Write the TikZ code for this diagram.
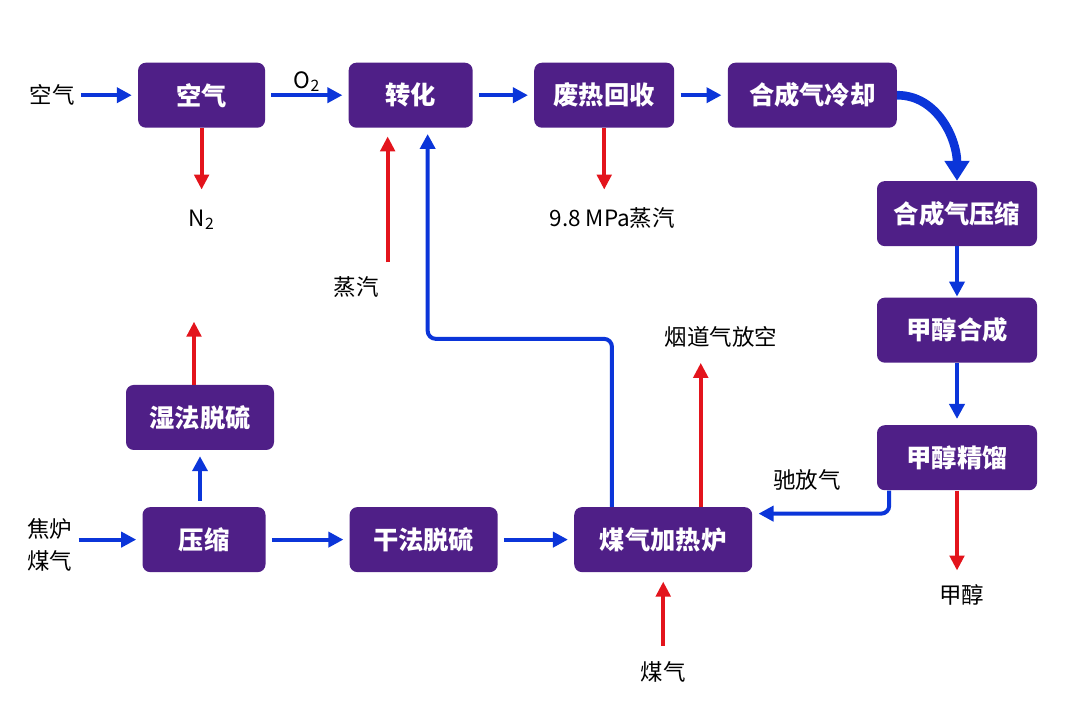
\documentclass[tikz,border=0pt]{standalone}
\usepackage{fontspec}
\setmainfont{Noto Sans CJK SC}
\usetikzlibrary{positioning,arrows.meta,calc}
\definecolor{procpurple}{HTML}{4F1F87}
\definecolor{flowblue}{HTML}{0B35D9}
\definecolor{hotred}{HTML}{E3141C}
\tikzset{
  box/.style    ={rounded corners=5.5pt,fill=procpurple,text=white,font=\fontsize{18}{21}\selectfont\bfseries,minimum height=1.625cm,inner xsep=2pt,align=center},
  lbl/.style    ={font=\fontsize{16}{19}\selectfont,inner sep=0pt,text height=12.8pt,text depth=0.8pt},
  lbltwo/.style ={font=\fontsize{16}{23}\selectfont,inner sep=0pt,align=center},
  flow/.style   ={-{Triangle[length=0.375cm,width=0.375cm]},line width=0.1cm,draw=flowblue,shorten <=0.15cm,shorten >=0.15cm},
  hot/.style    ={-{Triangle[length=0.375cm,width=0.36cm]},line width=0.1cm,draw=hotred},
  bigflow/.style={-{Triangle[length=0.5cm,width=0.6cm]},line width=0.215cm,draw=flowblue},
}
\begin{document}
\begin{tikzpicture}
  \useasboundingbox (0,0) rectangle (27,-18);
  \node[box, minimum width=3.175cm] (air) at (5.04,-2.38) {空气};
  \node[box, minimum width=3.1cm, right=2.075cm of air] (conv) {转化};
  \node[box, minimum width=3.5cm, right=1.525cm of conv] (heat) {废热回收};
  \node[box, minimum width=4.225cm, right=1.325cm of heat] (cool) {合成气冷却};
  \node[box, minimum width=4cm] (comp2) at (23.925,-5.34) {合成气压缩};
  \node[box, minimum width=4cm, below=1.275cm of comp2] (msyn) {甲醇合成};
  \node[box, minimum width=4cm, below=1.55cm of msyn] (mdist) {甲醇精馏};
  \node[box, minimum width=3.075cm] (comp) at (5.1,-13.49) {压缩};
  \node[box, minimum width=3.7cm, above=1.415cm of comp, xshift=-0.1cm] (wet) {湿法脱硫};
  \node[box, minimum width=3.7cm, right=2.09cm of comp] (dry) {干法脱硫};
  \node[box, minimum width=4.45cm, right=1.9cm of dry] (furn) {煤气加热炉};

  \node[lbl, left=1.575cm of air] (airin) {空气};
  \node[lbl, below=2cm of air] (nitro) {N\textsubscript{2}};
  \node[lbl, below=3.72cm of conv, xshift=-1.36cm] (steam) {蒸汽};
  \node[lbl, below=2cm of heat, xshift=0.2cm] (hpsteam) {9.8 MPa蒸汽};
  \node[lbl, below=2.36cm of mdist, xshift=0.12cm] (meoh) {甲醇};
  \node[lbltwo, left=1.74cm of comp, yshift=-0.14cm] (cog) {焦炉\\煤气};
  \node[lbl, below=2.24cm of furn] (fuel) {煤气};
  \coordinate (flueout) at ([xshift=3.17cm, yshift=3.6cm]furn.north west);
  \node[lbl, above=0.4cm of flueout, xshift=0.5cm] (flue) {烟道气放空};
  \coordinate (wetvent) at ([xshift=-0.15cm, yshift=1.575cm]wet.north);

  \draw[flow] (airin) -- (air);
  \draw[flow] (air) -- node[lbl, above=0.1cm]{O\textsubscript{2}} (conv);
  \draw[flow] (conv) -- (heat);
  \draw[flow] (heat) -- (cool);
  \draw[bigflow] (cool.east) to[out=0,in=90] (comp2.north);
  \draw[flow, shorten <=0pt, shorten >=0.02cm] (comp2) -- (msyn);
  \draw[flow, shorten <=0pt] (msyn) -- (mdist);
  \draw[flow, shorten <=0pt, rounded corners=0.2cm] ([xshift=0.3125cm]mdist.south west) |- node[lbl, pos=0.8, above=0.54cm]{驰放气} ([yshift=-0.17cm]furn.north east);
  \draw[flow, shorten <=0pt, rounded corners=0.2cm] ([xshift=0.95cm]furn.north west) -- ++(0,4.2) -| ([xshift=0.425cm]conv.south);
  \draw[flow] (cog.east |- comp) -- (comp);
  \draw[flow] (comp.north -| wet) -- (wet);
  \draw[flow] (comp) -- (dry);
  \draw[flow] (dry) -- (furn);
  \draw[hot, shorten >=0.46cm] (air) -- (nitro);
  \draw[hot, shorten >=0.46cm] (heat.south) -- (heat.south |- hpsteam.north);
  \draw[hot, shorten >=0.36cm] (mdist.south) -- (mdist.south |- meoh.north);
  \draw[hot, shorten <=0.36cm, shorten >=0.21cm] ([xshift=-0.575cm]conv.south |- steam.north) -- ([xshift=-0.575cm]conv.south);
  \draw[hot, shorten <=0.41cm, shorten >=0.23cm] (fuel) -- (furn);
  \draw[hot] (flueout |- furn.north) -- (flueout);
  \draw[hot] (wetvent |- wet.north) -- (wetvent);
\end{tikzpicture}
\end{document}
